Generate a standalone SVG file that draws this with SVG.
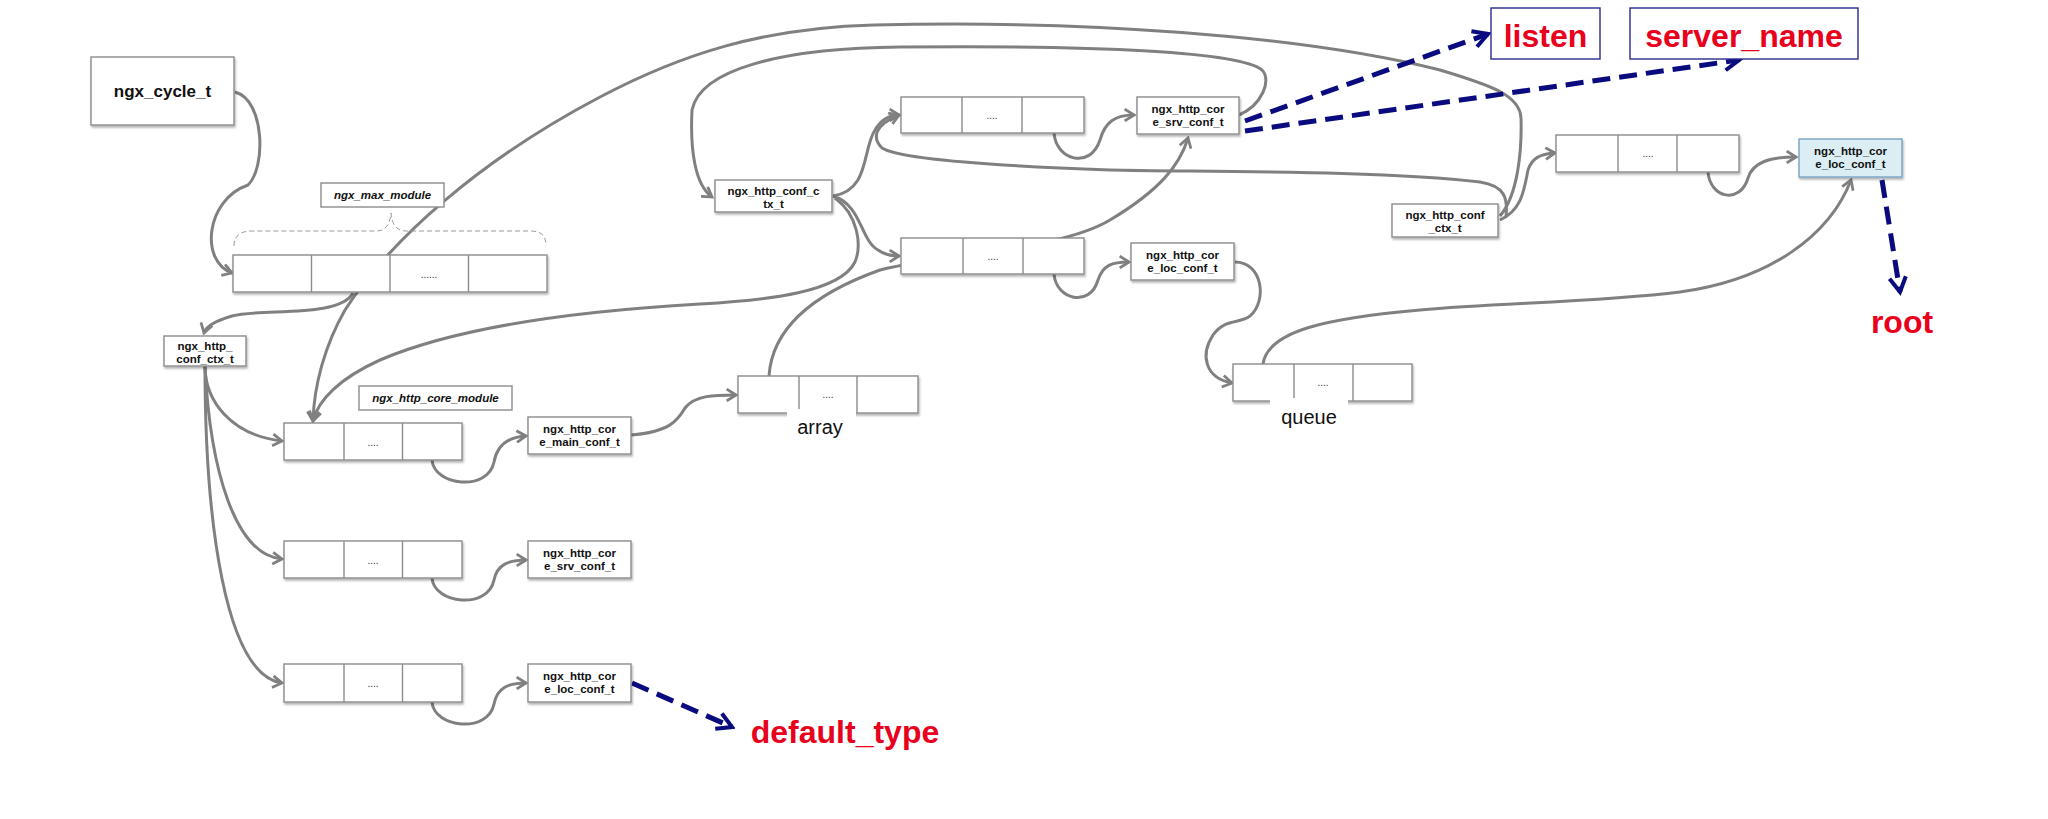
<svg xmlns="http://www.w3.org/2000/svg" width="2048" height="819" viewBox="0 0 2048 819">
<style>
.bx{fill:#fff;stroke:#8c8c8c;stroke-width:1.4}
.dv{stroke:#8c8c8c;stroke-width:1.4}
.t{font-family:"Liberation Sans",Arial,sans-serif;font-weight:bold;font-size:11.5px;fill:#111;text-anchor:middle}
.ti{font-family:"Liberation Sans",Arial,sans-serif;font-weight:bold;font-style:italic;font-size:11.5px;fill:#111;text-anchor:middle}
.dots{font-family:"Liberation Sans",Arial,sans-serif;font-size:10px;fill:#333;text-anchor:middle}
.lbl{font-family:"Liberation Sans",Arial,sans-serif;font-size:20px;fill:#111;text-anchor:middle}
.big{font-family:"Liberation Sans",Arial,sans-serif;font-weight:bold;font-size:32px;fill:#e8001c;text-anchor:middle}
.c{fill:none;stroke:#808080;stroke-width:3;marker-end:url(#ag)}
.cn{fill:none;stroke:#808080;stroke-width:3}
.d{fill:none;stroke:#0b0b80;stroke-width:5;stroke-dasharray:18 9;marker-end:url(#an)}
</style>
<defs>
<filter id="sh" x="-10%" y="-10%" width="130%" height="150%">
<feDropShadow dx="1" dy="2" stdDeviation="1.2" flood-color="#000" flood-opacity="0.3"/>
</filter>
<marker id="ag" viewBox="0 0 12 12" refX="10" refY="6" markerWidth="14" markerHeight="14" markerUnits="userSpaceOnUse" orient="auto">
<path d="M2,1 L10,6 L2,11" fill="none" stroke="#808080" stroke-width="2.4"/>
</marker>
<marker id="an" viewBox="0 0 12 12" refX="10" refY="6" markerWidth="22" markerHeight="22" markerUnits="userSpaceOnUse" orient="auto">
<path d="M2,1.5 L10,6 L2,10.5" fill="none" stroke="#0b0b80" stroke-width="2.2"/>
</marker>
</defs>
<rect width="2048" height="819" fill="#fff"/>

<g id="connectors">
<path class="c" d="M235,92 C265,100 266,168 248,185 C205,200 200,262 232,273"/>
<path class="c" d="M353,293 C340,318 262,308 232,316 C215,321 206,326 204,333"/>
<path class="c" d="M205,366 C205,400 230,435 282,441"/>
<path class="c" d="M205,366 C210,470 235,555 282,559"/>
<path class="c" d="M205,366 C205,520 225,675 282,683"/>
<path class="c" d="M432,460 C434,486 488,492 494,462 C497,445 508,437 526,436"/>
<path class="c" d="M432,578 C434,604 488,610 494,580 C497,565 508,560 526,560"/>
<path class="c" d="M432,702 C434,728 488,734 494,704 C497,688 508,683 526,683"/>
<path class="c" d="M631,435 C670,432 678,420 685,408 C695,395 715,395 736,395"/>
<path class="c" d="M1054,133 C1056,160 1090,170 1100,140 C1105,122 1115,115 1134,115"/>
<path class="c" d="M1054,274 C1056,300 1090,308 1098,280 C1103,265 1112,262 1129,262"/>
<path class="c" d="M1708,172 C1710,198 1740,205 1748,178 C1753,162 1770,157 1796,157"/>
<path class="c" d="M833,196 C870,190 862,150 875,130 C882,118 890,115 899,115"/>
<path class="c" d="M833,196 C862,205 860,240 878,250 C885,255 892,256 899,256"/>
<path class="c" d="M835,198 C858,215 862,245 855,262 C840,292 770,300 700,304 C560,312 450,330 380,360 C340,378 318,400 313,421"/>
<path class="c" d="M1500,216 C1518,195 1522,150 1521,118 C1520,95 1490,85 1440,70 C1300,35 1080,20 874,25 C760,28 680,55 600,97 C480,160 390,240 345,310 C325,345 314,385 313,421"/>
<path class="c" d="M1239,115 C1262,105 1272,80 1262,70 C1240,52 1100,45 900,47 C780,48 700,70 692,110 C690,150 695,185 712,197"/>
<path class="c" d="M1506,217 C1508,198 1505,186 1480,182 C1380,170 1200,172 1110,170 C1000,166 900,160 882,148 C872,138 874,125 899,115"/>
<path class="c" d="M769,376 C772,330 810,295 880,270 C960,250 1060,250 1110,220 C1160,190 1180,165 1188,138"/>
<path class="c" d="M1235,262 C1262,262 1268,300 1250,316 C1240,324 1225,318 1213,335 C1200,355 1205,378 1232,383"/>
<path class="c" d="M1263,364 C1268,330 1330,318 1420,310 C1500,303 1600,302 1680,292 C1770,280 1830,235 1851,180"/>
<path class="c" d="M1500,220 C1522,210 1524,190 1528,170 C1532,158 1540,154 1555,153"/>
<path class="d" d="M1245,121 L1488,34"/>
<path class="d" d="M1245,131 L1739,60"/>
<path class="d" d="M1882,180 L1900,292"/>
<path class="d" d="M632,683 L732,727"/>
<path d="M234,246 C234,236 240,231 252,231 L376,231 C386,231 390,224 391,213 C392,224 396,231 406,231 L530,231 C542,231 546,236 546,246" fill="none" stroke="#9a9a9a" stroke-width="1" stroke-dasharray="5 3"/>
</g>

<g id="ngx_cycle_t">
<rect class="bx" x="91" y="57" width="143" height="68" filter="url(#sh)"/>
<text class="t" x="162.5" y="97" style="font-size:17px">ngx_cycle_t</text>
</g>
<g id="ngx_max_module">
<rect class="bx" x="321" y="183" width="123" height="24"/>
<text class="ti" x="382.5" y="199">ngx_max_module</text>
</g>
<g id="modules_array">
<rect class="bx" x="233" y="255" width="314" height="37" filter="url(#sh)"/>
<line class="dv" x1="311.5" y1="255" x2="311.5" y2="292"/>
<line class="dv" x1="390" y1="255" x2="390" y2="292"/>
<line class="dv" x1="468.5" y1="255" x2="468.5" y2="292"/>
<text class="dots" x="429" y="278">......</text>
</g>
<g id="ngx_http_conf_ctx_t_main">
<rect class="bx" x="164" y="336" width="82" height="30" filter="url(#sh)"/>
<text class="t" x="205" y="350">ngx_http_</text>
<text class="t" x="205" y="363">conf_ctx_t</text>
</g>
<g id="ngx_http_core_module">
<rect class="bx" x="359" y="386" width="153" height="24"/>
<text class="ti" x="435.5" y="402">ngx_http_core_module</text>
</g>
<g id="main_conf_array">
<rect class="bx" x="284" y="423" width="178" height="37" filter="url(#sh)"/>
<line class="dv" x1="344" y1="423" x2="344" y2="460"/>
<line class="dv" x1="402.5" y1="423" x2="402.5" y2="460"/>
<text class="dots" x="373" y="446">....</text>
</g>
<g id="ngx_http_core_main_conf_t">
<rect class="bx" x="528" y="417" width="103" height="37" filter="url(#sh)"/>
<text class="t" x="579.5" y="433">ngx_http_cor</text>
<text class="t" x="579.5" y="446">e_main_conf_t</text>
</g>
<g id="srv_conf_array">
<rect class="bx" x="284" y="541" width="178" height="37" filter="url(#sh)"/>
<line class="dv" x1="344" y1="541" x2="344" y2="578"/>
<line class="dv" x1="402.5" y1="541" x2="402.5" y2="578"/>
<text class="dots" x="373" y="564">....</text>
</g>
<g id="ngx_http_core_srv_conf_t_main">
<rect class="bx" x="528" y="541" width="103" height="37" filter="url(#sh)"/>
<text class="t" x="579.5" y="557">ngx_http_cor</text>
<text class="t" x="579.5" y="570">e_srv_conf_t</text>
</g>
<g id="loc_conf_array">
<rect class="bx" x="284" y="664" width="178" height="38" filter="url(#sh)"/>
<line class="dv" x1="344" y1="664" x2="344" y2="702"/>
<line class="dv" x1="402.5" y1="664" x2="402.5" y2="702"/>
<text class="dots" x="373" y="687">....</text>
</g>
<g id="ngx_http_core_loc_conf_t_main">
<rect class="bx" x="528" y="664" width="103" height="38" filter="url(#sh)"/>
<text class="t" x="579.5" y="680">ngx_http_cor</text>
<text class="t" x="579.5" y="693">e_loc_conf_t</text>
</g>
<g id="array">
<rect class="bx" x="738" y="376" width="180" height="37" filter="url(#sh)"/>
<line class="dv" x1="799" y1="376" x2="799" y2="413"/>
<line class="dv" x1="857" y1="376" x2="857" y2="413"/>
<text class="dots" x="828" y="398">....</text>
<rect x="787" y="409" width="69" height="30" fill="#fff"/>
<text class="lbl" x="820" y="434">array</text>
</g>
<g id="ngx_http_conf_ctx_t_srv">
<rect class="bx" x="715" y="180" width="117" height="32" filter="url(#sh)"/>
<text class="t" x="773.5" y="195">ngx_http_conf_c</text>
<text class="t" x="773.5" y="208">tx_t</text>
</g>
<g id="srv_main_array">
<rect class="bx" x="901" y="97" width="183" height="36" filter="url(#sh)"/>
<line class="dv" x1="962" y1="97" x2="962" y2="133"/>
<line class="dv" x1="1022" y1="97" x2="1022" y2="133"/>
<text class="dots" x="992" y="119">....</text>
</g>
<g id="ngx_http_core_srv_conf_t">
<rect class="bx" x="1137" y="97" width="102" height="37" filter="url(#sh)"/>
<text class="t" x="1188" y="113">ngx_http_cor</text>
<text class="t" x="1188" y="126">e_srv_conf_t</text>
</g>
<g id="srv_loc_array">
<rect class="bx" x="901" y="238" width="183" height="36" filter="url(#sh)"/>
<line class="dv" x1="963" y1="238" x2="963" y2="274"/>
<line class="dv" x1="1023" y1="238" x2="1023" y2="274"/>
<text class="dots" x="993" y="260">....</text>
</g>
<g id="ngx_http_core_loc_conf_t_srv">
<rect class="bx" x="1131" y="243" width="103" height="37" filter="url(#sh)"/>
<text class="t" x="1182.5" y="259">ngx_http_cor</text>
<text class="t" x="1182.5" y="272">e_loc_conf_t</text>
</g>
<g id="queue">
<rect class="bx" x="1233" y="364" width="179" height="37" filter="url(#sh)"/>
<line class="dv" x1="1294" y1="364" x2="1294" y2="401"/>
<line class="dv" x1="1353" y1="364" x2="1353" y2="401"/>
<text class="dots" x="1323" y="386">....</text>
<rect x="1270" y="398" width="78" height="32" fill="#fff"/>
<text class="lbl" x="1309" y="424">queue</text>
</g>
<g id="ngx_http_conf_ctx_t_loc">
<rect class="bx" x="1392" y="204" width="106" height="33" filter="url(#sh)"/>
<text class="t" x="1445" y="219">ngx_http_conf</text>
<text class="t" x="1445" y="232">_ctx_t</text>
</g>
<g id="loc_array">
<rect class="bx" x="1556" y="135" width="183" height="37" filter="url(#sh)"/>
<line class="dv" x1="1618" y1="135" x2="1618" y2="172"/>
<line class="dv" x1="1677" y1="135" x2="1677" y2="172"/>
<text class="dots" x="1648" y="157">....</text>
</g>
<g id="ngx_http_core_loc_conf_t_loc">
<rect x="1799" y="139" width="103" height="38" fill="#dbeef4" stroke="#7aa3c4" stroke-width="1.4" filter="url(#sh)"/>
<text class="t" x="1850.5" y="155">ngx_http_cor</text>
<text class="t" x="1850.5" y="168">e_loc_conf_t</text>
</g>
<g id="listen">
<rect x="1491" y="8" width="109" height="51" fill="#fff" stroke="#2a2a8c" stroke-width="1.4"/>
<text class="big" x="1545.5" y="47">listen</text>
</g>
<g id="server_name">
<rect x="1630" y="8" width="228" height="51" fill="#fff" stroke="#2a2a8c" stroke-width="1.4"/>
<text class="big" x="1744" y="47">server_name</text>
</g>
<g id="root">
<text class="big" x="1902" y="333">root</text>
</g>
<g id="default_type">
<text class="big" x="845" y="743">default_type</text>
</g>
</svg>
